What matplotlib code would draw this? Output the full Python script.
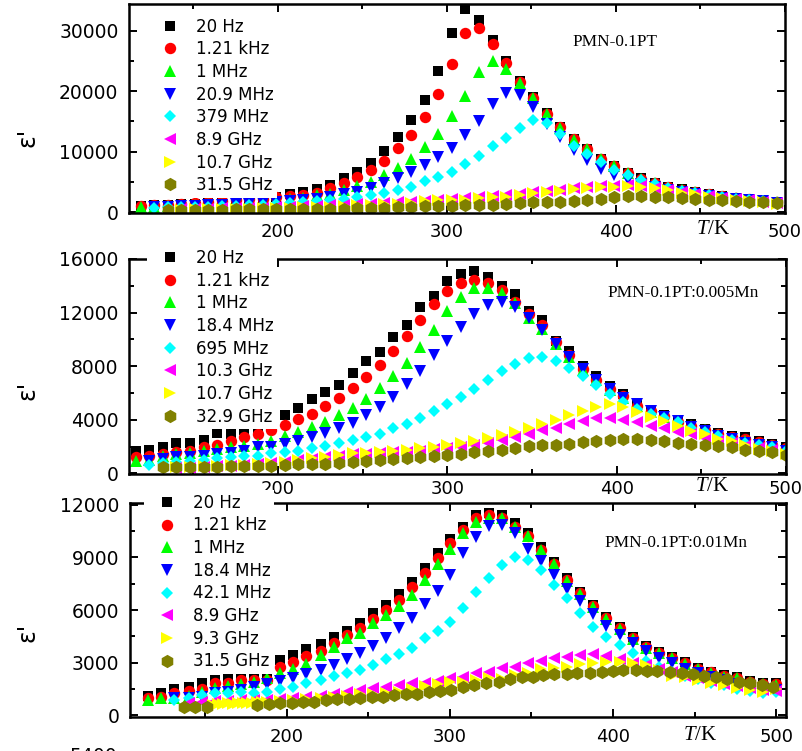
import matplotlib
matplotlib.use("Agg")
import matplotlib.pyplot as plt
from matplotlib.ticker import MultipleLocator
import numpy as np

plt.rcParams["font.family"] = ["DejaVu Sans"]
plt.rcParams["mathtext.fontset"] = "custom"
plt.rcParams["mathtext.it"] = "Liberation Serif:italic"
plt.rcParams["mathtext.rm"] = "Liberation Serif"

# ---- panel 1: PMN-0.1PT ----
T_PMN = [119, 127, 135, 143, 151, 159, 167, 175, 183, 191, 199, 207,
         215, 223, 231, 239, 247, 255, 263, 271, 279, 287, 295, 303,
         311, 319, 327, 335, 343, 351, 359, 367, 375, 383, 391, 399,
         407, 415, 423, 431, 439, 447, 455, 463, 471, 479, 487, 495]
PMN_20HZ = [1000, 1100, 1200, 1300, 1400, 1550, 1700, 2000, 2100, 2300, 2500, 2900,
            3300, 3850, 4550, 5550, 6700, 8100, 10100, 12350, 15250, 18600, 23400, 29600,
            33600, 31800, 28450, 24900, 21750, 19000, 16350, 14050, 12050, 10450, 8850, 7650,
            6500, 5550, 4850, 4150, 3750, 3350, 2950, 2650, 2300, 2100, 1850, 1650]
PMN_1K21 = [990, 1100, 1150, 1320, 1430, 1590, 1810, 1980, 2090, 2140, 2420, 2640,
            2850, 3200, 3900, 4830, 5820, 6920, 8460, 10600, 12800, 15700, 19440, 24500,
            29600, 30500, 27800, 24600, 21580, 18830, 16260, 14000, 12000, 10400, 8800, 7600,
            6450, 5500, 4800, 4100, 3700, 3300, 2900, 2600, 2280, 2080, 1830, 1630]
PMN_1M = [800, 900, 1000, 1050, 1150, 1250, 1350, 1450, 1550, 1700, 1850, 2100,
          2400, 2800, 3050, 3600, 4250, 5000, 6100, 7300, 8850, 10750, 12950, 15950,
          19250, 23100, 24900, 23700, 21400, 18900, 16250, 13950, 11950, 10350, 8750, 7550,
          6400, 5450, 4750, 4050, 3650, 3250, 2850, 2550, 2250, 2050, 1800, 1600]
PMN_20M9 = [None, 800, 900, 950, 1000, 1100, 1200, 1300, 1400, 1550, 1700, 1800,
            1950, 2150, 2530, 2910, 3350, 3900, 4850, 5600, 6640, 7800, 9110, 10600,
            12690, 15040, 17800, 19650, 19270, 17350, 14600, 12400, 10200, 8570, 7190, 6100,
            5300, 4700, 4200, 3700, 3350, 3000, 2700, 2400, 2150, 1950, 1750, 1550]
PMN_379M = [None, 700, 750, 800, 850, 900, 950, 1000, 1100, 1200, 1350, 1500,
            1650, 1850, 2030, 2090, 2420, 2800, 3180, 3600, 4200, 5050, 5820, 6640,
            8020, 9230, 10870, 12300, 13890, 15150, 14720, 12960, 10930, 9560, 8290, 6920,
            6100, 5270, 4560, 3900, 3500, 3100, 2800, 2500, 2200, 2000, 1750, 1550]
PMN_8G9 = [None, None, None, 500, 530, 560, 600, 640, 680, 720, 780, 850,
           920, 1000, 1100, 1200, 1300, 1400, 1500, 1600, 1700, 1850, 2050, 2200,
           2350, 2450, 2600, 2750, 2950, 3250, 3450, 3700, 3900, 4100, 4250, 4350,
           4450, 4300, 4000, 3700, 3300, 3000, 2650, 2350, 2150, 1950, 1700, 1450]
PMN_10G7 = [None, None, None, 400, 430, 460, 500, 530, 560, 600, 650, 700,
            750, 800, 900, 1000, 1100, 1200, 1300, 1400, 1500, 1800, 1950, 2050,
            2030, 2250, 2420, 2530, 2800, 3070, 3290, 3510, 3730, 3900, 4060, 4170,
            4340, 4170, 3900, 3620, 3180, 2910, 2530, 2250, 2030, 1870, 1590, 1320]
PMN_31G5 = [None, None, 350, 350, 380, 400, 400, 420, 450, 450, 480, 500,
            500, 520, 550, 580, 600, 650, 700, 750, 880, 950, 990, 1050,
            1100, 1150, 1200, 1320, 1430, 1590, 1650, 1700, 1870, 1980, 2140, 2420,
            2640, 2600, 2530, 2420, 2250, 2140, 1980, 1980, 1870, 1700, 1590, 1430]
LABELS_PMN = ["20 Hz", "1.21 kHz", "1 MHz", "20.9 MHz", "379 MHz", "8.9 GHz", "10.7 GHz", "31.5 GHz"]

# ---- panel 2: PMN-0.1PT:0.005Mn ----
T_MN005 = [116, 124, 132, 140, 148, 156, 164, 172, 180, 188, 196,
           204, 212, 220, 228, 236, 244, 252, 260, 268, 276, 284, 292, 300,
           308, 316, 324, 332, 340, 348, 356, 364, 372, 380, 388, 396, 404,
           412, 420, 428, 436, 444, 452, 460, 468, 476, 484, 492, 500]
MN005_20HZ = [1640, 1740, 1940, 2230, 2300, 2480, 3040, 2970, 3240, 3360, 3500,
              4350, 4840, 5580, 6050, 6620, 7480, 8410, 9080, 10140, 11050, 12410, 13220, 14380,
              14880, 15070, 14680, 14010, 13400, 12110, 11470, 9890, 9130, 8020, 7280, 6490, 5950,
              5090, 4720, 4350, 3900, 3660, 3340, 3000, 2800, 2700, 2450, 2200, 2000]
MN005_1K21 = [1200, 1320, 1440, 1570, 1690, 1940, 2130, 2380, 2680, 2920, 3220,
              3590, 4080, 4450, 5010, 5630, 6370, 7160, 8100, 9130, 10260, 11470, 12660, 13640,
              14220, 14450, 14220, 13680, 12780, 11920, 11050, 9820, 8840, 7780, 7000, 6300, 5750,
              5050, 4650, 4250, 3850, 3550, 3250, 2950, 2700, 2550, 2350, 2120, 1900]
MN005_1M = [900, 1000, 1300, 1440, 1520, 1690, 1810, 1940, 2060, 2180, 2430,
            2800, 3120, 3460, 3860, 4330, 4890, 5560, 6370, 7230, 8220, 9450, 10680, 12090,
            13150, 13810, 13810, 13440, 12700, 11620, 10740, 9620, 8700, 7700, 6950, 6250, 5650,
            5000, 4600, 4200, 3850, 3500, 3200, 2850, 2600, 2400, 2200, 2050, 1800]
MN005_18M4 = [None, 900, 1070, 1200, 1200, 1320, 1440, 1520, 1690, 1940, 1980,
              2180, 2430, 2680, 2990, 3350, 3750, 4350, 4950, 5700, 6650, 7650, 8800, 9900,
              10900, 11900, 12600, 12780, 12450, 11600, 10700, 9650, 8700, 7800, 7000, 6300, 5650,
              5140, 4650, 4210, 3900, 3460, 3170, 2800, 2550, 2300, 2130, 1980, 1690]
MN005_695M = [None, 650, 750, 830, 900, 1000, 1150, 1200, 1320, 1320, 1490,
              1570, 1690, 1890, 2060, 2300, 2500, 2680, 2900, 3350, 3650, 4150, 4650, 5150,
              5700, 6300, 7000, 7650, 8150, 8600, 8650, 8400, 7900, 7300, 6600, 5950, 5300,
              4800, 4450, 4100, 3800, 3400, 3100, 2750, 2500, 2280, 2100, 1950, 1650]
MN005_10G3 = [None, None, None, 400, 430, 470, 510, 560, 610, 680, 760,
              850, 980, 1100, 1220, 1300, 1450, 1480, 1520, 1560, 1620, 1700, 1800, 1900,
              2000, 2150, 2300, 2500, 2700, 2900, 3250, 3400, 3700, 3900, 4100, 4100, 4000,
              3800, 3550, 3350, 3100, 2900, 2650, 2450, 2250, 2050, 1900, 1750, 1600]
MN005_10G7 = [None, None, None, 450, 480, 520, 560, 600, 650, 720, 800,
              880, 1000, 1120, 1250, 1350, 1490, 1500, 1570, 1640, 1750, 1870, 2000, 2130,
              2250, 2450, 2620, 2880, 3100, 3400, 3700, 4000, 4380, 4680, 4950, 5150, 4950,
              4550, 4200, 3900, 3530, 3170, 2920, 2600, 2400, 2150, 1850, 1650, 1450]
MN005_32G9 = [None, None, 450, 460, 460, 470, 500, 530, 560, 580, 580,
              620, 680, 700, 730, 790, 850, 920, 1000, 1060, 1120, 1250, 1320, 1370,
              1430, 1560, 1660, 1740, 1880, 2020, 2080, 2130, 2220, 2320, 2410, 2500, 2550,
              2530, 2470, 2390, 2270, 2180, 2150, 2040, 1930, 1770, 1680, 1600, 1400]
LABELS_MN005 = ["20 Hz", "1.21 kHz", "1 MHz", "18.4 MHz", "695 MHz", "10.3 GHz", "10.7 GHz", "32.9 GHz"]

# ---- panel 3: PMN-0.1PT:0.01Mn ----
T_MN01 = [115, 123, 131, 140, 148, 156, 164, 172, 180, 188, 196,
          204, 212, 221, 229, 237, 245, 253, 261, 269, 277, 285, 293, 300,
          308, 316, 324, 332, 340, 348, 356, 364, 372, 380, 388, 396, 404,
          412, 420, 428, 436, 444, 452, 460, 468, 476, 484, 492, 500]
MN01_20HZ = [1090, 1270, 1470, 1620, 1810, 2000, 2100, 2150, 2150, 2200, 3150,
             3430, 3750, 4060, 4480, 4820, 5280, 5810, 6290, 6900, 7620, 8380, 9240, 10040,
             10760, 11430, 11520, 11430, 10950, 10380, 9580, 8760, 7810, 7050, 6290, 5620, 5010,
             4480, 3960, 3620, 3330, 3010, 2700, 2480, 2290, 2190, 1940, 1850, 1810]
MN01_1K21 = [955, 1050, 1270, 1390, 1490, 1850, 1850, 2000, 2000, 2000, 2720,
             3050, 3370, 3680, 4090, 4570, 4950, 5470, 6000, 6570, 7330, 8130, 8950, 9810,
             10570, 11240, 11430, 11240, 10760, 10250, 9450, 8650, 7700, 6950, 6200, 5550, 4950,
             4400, 3900, 3570, 3280, 2960, 2650, 2430, 2250, 2140, 1900, 1800, 1760]
MN01_1M = [860, 950, 1000, 1100, 1300, 1520, 1660, 1770, 1900, 2100, 2380,
           2610, 2910, 3430, 3900, 4380, 4670, 5280, 5710, 6230, 6860, 7710, 8630, 9470,
           10380, 11050, 11240, 11240, 10760, 10200, 9400, 8600, 7650, 6900, 6150, 5500, 4900,
           4350, 3850, 3520, 3230, 2920, 2620, 2400, 2200, 2100, 1870, 1780, 1730]
MN01_18M4 = [None, None, 950, 1000, 1050, 1270, 1330, 1430, 1580, 1750, 1950,
             2120, 2330, 2580, 2850, 3190, 3560, 3970, 4400, 4950, 5550, 6350, 7100, 8000,
             9240, 10190, 10800, 10860, 10400, 9500, 8800, 8000, 7200, 6500, 5750, 5100, 4600,
             4100, 3650, 3250, 2950, 2650, 2400, 2200, 2000, 1800, 1650, 1500, 1450]
MN01_42M1 = [None, None, 860, 950, 1140, 1240, 1270, 1330, 1270, 1330, 1470,
             1620, 1810, 2000, 2230, 2420, 2570, 2860, 3180, 3490, 3810, 4380, 4820, 5330,
             6100, 7050, 7810, 8570, 9050, 8860, 8290, 7430, 6670, 5810, 5050, 4480, 4000,
             3520, 3100, 2750, 2480, 2250, 2050, 1850, 1700, 1500, 1400, 1250, 1300]
MN01_8G9 = [None, None, None, 700, 750, 780, 800, 830, 860, 880, 920,
            980, 1030, 1100, 1200, 1300, 1430, 1520, 1620, 1710, 1810, 1850, 1940, 2100,
            2190, 2380, 2480, 2670, 2760, 2950, 3100, 3240, 3330, 3430, 3490, 3400, 3200,
            3000, 2850, 2650, 2450, 2250, 2100, 1950, 1800, 1650, 1550, 1450, 1400]
T_MN01_9G3 = [155, 158, 161, 164, 167, 170, 173, 176, 179, 182, 185, 188,
              196, 204, 212, 221, 229, 237, 245, 253, 261, 269, 277, 285, 293, 300,
              308, 316, 324, 332, 340, 348, 356, 364, 372, 380, 388, 396, 404,
              412, 420, 428, 436, 444, 452, 460, 468, 476, 484, 492, 500]
MN01_9G3 = [600, 640, 620, 660, 650, 690, 680, 710, 700, 730, 720, 750,
            780, 830, 900, 980, 1030, 1100, 1180, 1200, 1240, 1330, 1500, 1650, 1780, 1870,
            1900, 2000, 2090, 2050, 2290, 2420, 2610, 2670, 2760, 2900, 2990, 3050, 3050,
            2990, 2860, 2570, 2250, 2150, 2000, 1850, 1700, 1550, 1430, 1330, 1500]
T_MN01_31G5 = [137, 144, 151, 182, 189, 196, 203, 210, 217, 224,
               231, 238, 245, 252, 259, 266, 273, 280, 287, 294, 301, 308, 315, 322, 330, 337,
               344, 351, 357, 364, 372, 378, 386, 393, 400, 406, 414, 421, 427, 435, 442, 449,
               456, 463, 470, 477, 484, 491, 498]
MN01_31G5 = [440, 440, 440, 570, 630, 670, 700, 730, 760, 860,
             900, 910, 950, 1010, 1050, 1140, 1180, 1200, 1330, 1390, 1430, 1580, 1710, 1810, 1900, 2040,
             2150, 2190, 2290, 2340, 2340, 2420, 2420, 2480, 2510, 2570, 2570, 2530, 2530, 2480, 2420, 2340,
             2230, 2150, 2040, 1900, 1850, 1710, 1580]
LABELS_MN01 = ["20 Hz", "1.21 kHz", "1 MHz", "18.4 MHz", "42.1 MHz", "8.9 GHz", "9.3 GHz", "31.5 GHz"]

MARKERS = ["s", "o", "^", "v", "D", "<", ">", "h"]
SIZES = [6.8, 8.2, 8.2, 8.2, 6.6, 8.0, 8.0, 9.6]
COLORS = ["#000000", "#ff0000", "#00ff00", "#0000ff", "#00ffff", "#ff00ff", "#ffff00", "#808000"]

W, H = 802, 751
fig = plt.figure(figsize=(W / 100, H / 100), dpi=100)


def px_axes(left, top, right, bottom):
    return fig.add_axes([left / W, 1 - bottom / H, (right - left) / W, (bottom - top) / H])


def style(ax, xlim, ylim, ymaj, xpad):
    ax.set_xlim(*xlim)
    ax.set_ylim(*ylim)
    ax.xaxis.set_major_locator(MultipleLocator(100))
    ax.xaxis.set_minor_locator(MultipleLocator(50))
    ax.yaxis.set_major_locator(MultipleLocator(ymaj))
    ax.yaxis.set_minor_locator(MultipleLocator(ymaj / 2))
    ax.tick_params(which="both", direction="in", top=True, right=True, width=1.4, colors="black")
    ax.tick_params(which="major", length=5.5)
    ax.tick_params(which="minor", length=3.5)
    ax.tick_params(axis="y", labelsize=13.5, pad=7.6)
    ax.tick_params(axis="x", labelsize=13, pad=xpad)
    for s in ax.spines.values():
        s.set_linewidth(1.8)


def draw(ax, series, labels, leg_left, leg_top):
    for (t, v), lab, m, ms, c in zip(series, labels, MARKERS, SIZES, COLORS):
        ax.plot(t, np.array(v, dtype=float), linestyle="none", marker=m, markersize=ms,
                color=c, markeredgewidth=0, label=lab)
    ax.legend(loc="upper left", bbox_to_anchor=(leg_left / W, 1 - leg_top / H),
              bbox_transform=fig.transFigure, frameon=True, facecolor="white",
              edgecolor="none", framealpha=1, fancybox=False, borderpad=0.2,
              borderaxespad=0, handlelength=2.36, handletextpad=0.38,
              labelspacing=0.28, fontsize=12, numpoints=1)


# panel 1
ax1 = px_axes(129, 4, 785, 213)
style(ax1, (112, 500), (-160, 34400), 10000, 7.0)
draw(ax1, [(T_PMN, PMN_20HZ), (T_PMN, PMN_1K21), (T_PMN, PMN_1M), (T_PMN, PMN_20M9),
           (T_PMN, PMN_379M), (T_PMN, PMN_8G9), (T_PMN, PMN_10G7), (T_PMN, PMN_31G5)],
     LABELS_PMN, 147, 14.2)
ax1.text(0.741, 0.818, "PMN-0.1PT", transform=ax1.transAxes, ha="center", va="center",
         fontsize=12.4, family="Liberation Serif")

# panel 2
ax2 = px_axes(129, 259, 786, 474)
style(ax2, (112, 500), (-50, 16000), 4000, 4.2)
draw(ax2, [(T_MN005, MN005_20HZ), (T_MN005, MN005_1K21), (T_MN005, MN005_1M), (T_MN005, MN005_18M4),
           (T_MN005, MN005_695M), (T_MN005, MN005_10G3), (T_MN005, MN005_10G7), (T_MN005, MN005_32G9)],
     LABELS_MN005, 147, 245.5)
ax2.text(0.843, 0.840, "PMN-0.1PT:0.005Mn", transform=ax2.transAxes, ha="center", va="center",
         fontsize=12.4, family="Liberation Serif")

# panel 3
ax3 = px_axes(130, 503, 786, 717)
style(ax3, (104, 506), (-114, 12114), 3000, 7.8)
draw(ax3, [(T_MN01, MN01_20HZ), (T_MN01, MN01_1K21), (T_MN01, MN01_1M), (T_MN01, MN01_18M4),
           (T_MN01, MN01_42M1), (T_MN01, MN01_8G9), (T_MN01_9G3, MN01_9G3), (T_MN01_31G5, MN01_31G5)],
     LABELS_MN01, 143.7, 490.5)
ax3.text(0.832, 0.812, "PMN-0.1PT:0.01Mn", transform=ax3.transAxes, ha="center", va="center",
         fontsize=12.4, family="Liberation Serif")

# axis labels placed like the original layout
for x, y in [(27, 137), (27, 390), (28, 632)]:
    fig.text(x / W, 1 - y / H, "ε'", rotation=90, ha="center", va="center", fontsize=17)
for x, y in [(713, 230), (712, 487), (700, 735)]:
    fig.text(x / W, 1 - y / H, r"$T$/K", ha="center", va="center", fontsize=15,
             family="Liberation Serif")

# top of a cut-off tick label at the lower edge
fig.text(117 / W, 1 - 761.5 / H, "5400", ha="right", va="baseline", fontsize=13.5)

fig.savefig("out.png", dpi=100)
